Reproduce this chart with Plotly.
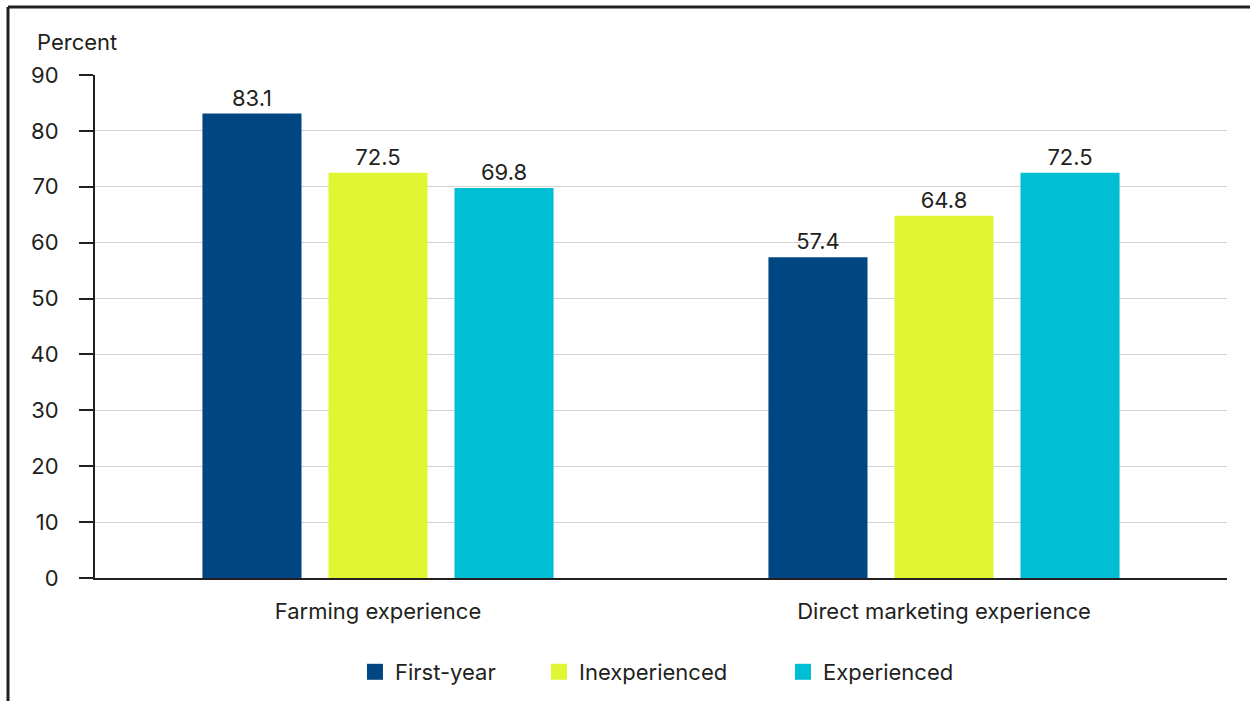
import plotly.graph_objects as go

categories = ["Farming experience", "Direct marketing experience"]
series_names = ["First-year", "Inexperienced", "Experienced"]
first_year = [83.1, 57.4]
inexperienced = [72.5, 64.8]
experienced = [69.8, 72.5]
colors = ["#004682", "#E0F632", "#00BFD4"]
y_ticks = [0, 10, 20, 30, 40, 50, 60, 70, 80, 90]

FONT = "Inter, Roboto, Arial, sans-serif"
INK = "#231F20"
FS = 22

# plot-area geometry in pixels (used to place paper-referenced decorations)
W, H = 1250, 701
L, R, T, B = 95, 23, 75, 123
pw, ph = W - L - R, H - T - B


def px_x(x):
    return (x - L) / pw


def px_y(y):
    return (H - B - y) / ph


fig = go.Figure()
values = [first_year, inexperienced, experienced]
legend_ids = ["legend", "legend2", "legend3"]
legend_x = [355, 539, 783]

for name, vals, col, lg in zip(series_names, values, colors, legend_ids):
    fig.add_trace(go.Bar(
        x=categories, y=vals, name=name, marker_color=col,
        marker_line_width=0,
        text=[f"{v:.1f}" for v in vals], textposition="outside",
        textfont=dict(size=FS, color=INK, family=FONT),
        cliponaxis=False, showlegend=False,
    ))
    # legend swatch
    fig.add_trace(go.Scatter(
        x=[None], y=[None], mode="markers", name=name,
        marker=dict(symbol="square", size=17, color=col),
        legend=lg, showlegend=True,
    ))

layout_legends = {}
for lg, lx in zip(legend_ids, legend_x):
    layout_legends[lg] = dict(
        x=px_x(lx), xanchor="left", y=px_y(672), yanchor="middle",
        orientation="h", font=dict(size=FS, color=INK, family=FONT),
        bgcolor="rgba(0,0,0,0)", itemwidth=30,
    )

fig.update_layout(
    width=W, height=H,
    margin=dict(l=L, r=R, t=T, b=B, pad=0, autoexpand=False),
    plot_bgcolor="white", paper_bgcolor="white",
    font=dict(family=FONT, size=FS, color=INK),
    barmode="group", bargap=0.332, bargroupgap=0.214,
    **layout_legends,
    xaxis=dict(
        showline=True, linecolor=INK, linewidth=2, ticks="",
        showgrid=False, tickfont=dict(size=FS, color=INK),
        ticklabelstandoff=13, automargin=False,
    ),
    yaxis=dict(
        range=[0, 90], tickvals=y_ticks, showline=True, linecolor=INK,
        linewidth=2, ticks="outside", ticklen=14, tickwidth=2,
        tickcolor=INK, showgrid=True, gridcolor="#D3D3D3", gridwidth=1,
        tickfont=dict(size=FS, color=INK), ticklabelstandoff=16,
        zeroline=False, automargin=False,
    ),
    annotations=[dict(
        text="Percent", xref="paper", yref="paper",
        x=px_x(35), y=px_y(42), xanchor="left", yanchor="middle",
        showarrow=False, font=dict(size=FS, color=INK, family=FONT),
    )],
    shapes=[
        dict(type="line", xref="paper", yref="paper",
             x0=px_x(8), x1=px_x(W + 5), y0=px_y(7), y1=px_y(7),
             line=dict(color=INK, width=3)),
        dict(type="line", xref="paper", yref="paper",
             x0=px_x(8), x1=px_x(8), y0=px_y(7), y1=px_y(H + 5),
             line=dict(color=INK, width=3)),
    ],
)

fig.write_html("out.html")
